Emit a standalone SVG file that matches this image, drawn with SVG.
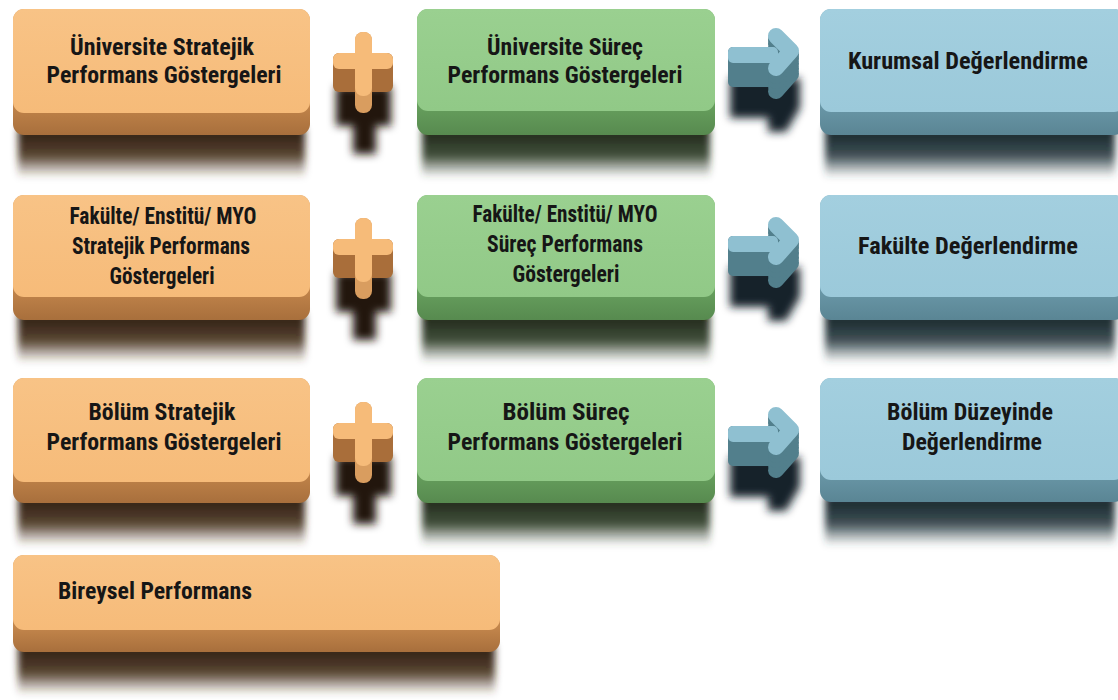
<svg xmlns="http://www.w3.org/2000/svg" xmlns:xlink="http://www.w3.org/1999/xlink" width="1118" height="700" viewBox="0 0 1118 700">
<defs>
  <style>
    text { font-family: "Liberation Sans Narrow", "Roboto Condensed", Roboto, "Liberation Sans", sans-serif; font-weight: bold; font-size: 24px; fill: #161616; font-stretch: condensed; }
    .c { text-anchor: middle; }
    .of { fill: url(#oFace); }
    .os { fill: url(#oSide); }
    .osh { fill: url(#oShad); filter: url(#blur); }
    .gf { fill: url(#gFace); }
    .gs { fill: url(#gSide); }
    .gsh { fill: url(#gShad); filter: url(#blur); }
    .bf { fill: url(#bFace); }
    .bs { fill: url(#bSide); }
    .bsh { fill: url(#bShad); filter: url(#blur); }
    .pface { fill: #F6BB79; }
    .pstem { fill: #D99D5F; }
    .pside { fill: #A96E3A; }
    .psh { fill: #24160A; filter: url(#blur2); }
    .aface { fill: none; stroke: #8FC0D1; stroke-width: 16; stroke-linecap: round; stroke-linejoin: round; }
    .aside { fill: none; stroke: #527F8C; stroke-width: 16; stroke-linecap: round; stroke-linejoin: round; }
    .ash { fill: #13232A; filter: url(#blur2); }
  </style>
  <filter id="blur" x="-10%" y="-40%" width="120%" height="180%"><feGaussianBlur stdDeviation="3.5"/></filter>
  <filter id="blur2" x="-50%" y="-50%" width="200%" height="200%"><feGaussianBlur stdDeviation="4.5"/></filter>
  <linearGradient id="oFace" x1="0" y1="0" x2="0" y2="1"><stop offset="0" stop-color="#F8C386"/><stop offset="1" stop-color="#F6BB79"/></linearGradient>
  <linearGradient id="oSide" x1="0" y1="0" x2="0" y2="1"><stop offset="0" stop-color="#D9A062"/><stop offset="0.75" stop-color="#C2854B"/><stop offset="1" stop-color="#A86F3C"/></linearGradient>
  <linearGradient id="oShad" x1="0" y1="0" x2="0" y2="1"><stop offset="0" stop-color="#2A1808" stop-opacity="1"/><stop offset="0.55" stop-color="#3A2410" stop-opacity="0.85"/><stop offset="1" stop-color="#4A3018" stop-opacity="0"/></linearGradient>
  <linearGradient id="gFace" x1="0" y1="0" x2="0" y2="1"><stop offset="0" stop-color="#9AD090"/><stop offset="1" stop-color="#91C987"/></linearGradient>
  <linearGradient id="gSide" x1="0" y1="0" x2="0" y2="1"><stop offset="0" stop-color="#7DB673"/><stop offset="0.75" stop-color="#67A05E"/><stop offset="1" stop-color="#578A4F"/></linearGradient>
  <linearGradient id="gShad" x1="0" y1="0" x2="0" y2="1"><stop offset="0" stop-color="#17220F" stop-opacity="1"/><stop offset="0.55" stop-color="#23301B" stop-opacity="0.85"/><stop offset="1" stop-color="#30402A" stop-opacity="0"/></linearGradient>
  <linearGradient id="bFace" x1="0" y1="0" x2="0" y2="1"><stop offset="0" stop-color="#A3CFDF"/><stop offset="1" stop-color="#9BC9DA"/></linearGradient>
  <linearGradient id="bSide" x1="0" y1="0" x2="0" y2="1"><stop offset="0" stop-color="#82B1C1"/><stop offset="0.75" stop-color="#6A98A8"/><stop offset="1" stop-color="#5A8594"/></linearGradient>
  <linearGradient id="bShad" x1="0" y1="0" x2="0" y2="1"><stop offset="0" stop-color="#122126" stop-opacity="1"/><stop offset="0.55" stop-color="#1D3036" stop-opacity="0.85"/><stop offset="1" stop-color="#2A4046" stop-opacity="0"/></linearGradient>
  <g id="plus">
    <path class="psh" d="M336 86 H391 V126 H376 V154 H353 V126 H336 Z"/>
    <rect class="pside" x="333" y="53" width="60" height="39" rx="6"/>
    <rect class="pstem" x="355" y="32" width="17" height="81" rx="8"/>
    <rect class="pface" x="333" y="53" width="60" height="16" rx="6"/>
    <rect class="pface" x="355" y="32" width="17" height="64" rx="8"/>
  </g>
  <polyline id="chev" points="776,36 791,51 776,68"/>
  <g id="arrow">
    <path class="ash" d="M730 78 H800 V108 L786 132 H768 V118 H730 Z"/>
    <rect x="728" y="47" width="50" height="40" rx="5" fill="#527F8C"/>
    <use xlink:href="#chev" class="aside" transform="translate(0,23)"/>
    <use xlink:href="#chev" class="aside" transform="translate(0,18)"/>
    <use xlink:href="#chev" class="aside" transform="translate(0,13)"/>
    <use xlink:href="#chev" class="aside" transform="translate(0,8)"/>
    <use xlink:href="#chev" class="aside" transform="translate(0,4)"/>
    <rect x="728" y="47" width="50" height="16" rx="5" fill="#8FC0D1"/>
    <use xlink:href="#chev" class="aface"/>
  </g>
</defs>
<rect width="1118" height="700" fill="#FFFFFF"/>

<g id="connectors">
  <use xlink:href="#plus"/>
  <use xlink:href="#plus" transform="translate(0,186)"/>
  <use xlink:href="#plus" transform="translate(0,370)"/>
  <use xlink:href="#arrow"/>
  <use xlink:href="#arrow" transform="translate(0,189)"/>
  <use xlink:href="#arrow" transform="translate(0,379)"/>
</g>

<g id="univ-strategic">
  <rect class="osh" x="18" y="128" width="287" height="50"/>
  <rect class="os" x="13" y="9" width="297" height="126" rx="11"/>
  <rect class="of" x="13" y="9" width="297" height="104" rx="11"/>
  <text class="c" x="162" y="55" textLength="184" lengthAdjust="spacingAndGlyphs">Üniversite Stratejik</text>
  <text class="c" x="164" y="83" textLength="235" lengthAdjust="spacingAndGlyphs">Performans Göstergeleri</text>
</g>
<g id="univ-process">
  <rect class="gsh" x="422" y="128" width="288" height="50"/>
  <rect class="gs" x="417" y="9" width="298" height="126" rx="11"/>
  <rect class="gf" x="417" y="9" width="298" height="102" rx="11"/>
  <text class="c" x="565" y="55" textLength="156" lengthAdjust="spacingAndGlyphs">Üniversite Süreç</text>
  <text class="c" x="565" y="83" textLength="235" lengthAdjust="spacingAndGlyphs">Performans Göstergeleri</text>
</g>
<g id="institutional-eval">
  <rect class="bsh" x="825" y="128" width="290" height="50"/>
  <rect class="bs" x="820" y="9" width="305" height="126" rx="11"/>
  <rect class="bf" x="820" y="9" width="305" height="103" rx="11"/>
  <text class="c" x="968" y="69" textLength="240" lengthAdjust="spacingAndGlyphs">Kurumsal Değerlendirme</text>
</g>

<g id="faculty-strategic">
  <rect class="osh" x="18" y="313" width="287" height="50"/>
  <rect class="os" x="13" y="195" width="297" height="125" rx="11"/>
  <rect class="of" x="13" y="195" width="297" height="102" rx="11"/>
  <text class="c" x="163" y="224" textLength="187" lengthAdjust="spacingAndGlyphs">Fakülte/ Enstitü/ MYO</text>
  <text class="c" x="161" y="254" textLength="178" lengthAdjust="spacingAndGlyphs">Stratejik Performans</text>
  <text class="c" x="162" y="284" textLength="105" lengthAdjust="spacingAndGlyphs">Göstergeleri</text>
</g>
<g id="faculty-process">
  <rect class="gsh" x="422" y="313" width="288" height="50"/>
  <rect class="gs" x="417" y="195" width="298" height="125" rx="11"/>
  <rect class="gf" x="417" y="195" width="298" height="102" rx="11"/>
  <text class="c" x="565" y="222" textLength="185" lengthAdjust="spacingAndGlyphs">Fakülte/ Enstitü/ MYO</text>
  <text class="c" x="565" y="252" textLength="156" lengthAdjust="spacingAndGlyphs">Süreç Performans</text>
  <text class="c" x="566" y="282" textLength="107" lengthAdjust="spacingAndGlyphs">Göstergeleri</text>
</g>
<g id="faculty-eval">
  <rect class="bsh" x="825" y="313" width="290" height="50"/>
  <rect class="bs" x="820" y="195" width="305" height="125" rx="11"/>
  <rect class="bf" x="820" y="195" width="305" height="102" rx="11"/>
  <text class="c" x="968" y="254" textLength="220" lengthAdjust="spacingAndGlyphs">Fakülte Değerlendirme</text>
</g>

<g id="dept-strategic">
  <rect class="osh" x="18" y="496" width="287" height="50"/>
  <rect class="os" x="13" y="378" width="297" height="125" rx="11"/>
  <rect class="of" x="13" y="378" width="297" height="104" rx="11"/>
  <text class="c" x="162" y="420" textLength="147" lengthAdjust="spacingAndGlyphs">Bölüm Stratejik</text>
  <text class="c" x="164" y="450" textLength="235" lengthAdjust="spacingAndGlyphs">Performans Göstergeleri</text>
</g>
<g id="dept-process">
  <rect class="gsh" x="422" y="496" width="288" height="50"/>
  <rect class="gs" x="417" y="378" width="298" height="125" rx="11"/>
  <rect class="gf" x="417" y="378" width="298" height="103" rx="11"/>
  <text class="c" x="566" y="420" textLength="127" lengthAdjust="spacingAndGlyphs">Bölüm Süreç</text>
  <text class="c" x="565" y="450" textLength="235" lengthAdjust="spacingAndGlyphs">Performans Göstergeleri</text>
</g>
<g id="dept-eval">
  <rect class="bsh" x="825" y="496" width="290" height="50"/>
  <rect class="bs" x="820" y="378" width="305" height="124" rx="11"/>
  <rect class="bf" x="820" y="378" width="305" height="102" rx="11"/>
  <text class="c" x="970" y="420" textLength="166" lengthAdjust="spacingAndGlyphs">Bölüm Düzeyinde</text>
  <text class="c" x="972" y="450" textLength="140" lengthAdjust="spacingAndGlyphs">Değerlendirme</text>
</g>

<g id="individual">
  <rect class="osh" x="18" y="645" width="477" height="50"/>
  <rect class="os" x="13" y="555" width="487" height="97" rx="11"/>
  <rect class="of" x="13" y="555" width="487" height="75" rx="11"/>
  <text x="58" y="599" textLength="194" lengthAdjust="spacingAndGlyphs">Bireysel Performans</text>
</g>
</svg>
